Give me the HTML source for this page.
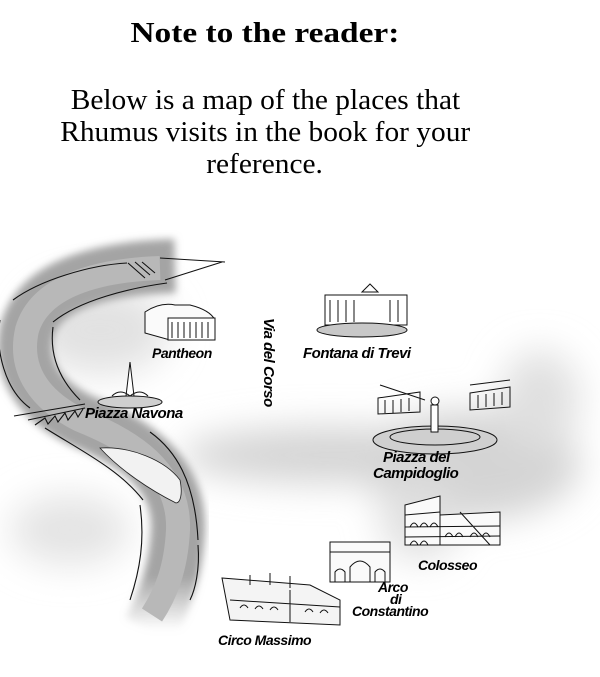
<!DOCTYPE html>
<html><head><meta charset="utf-8"><style>
html,body{margin:0;padding:0;background:#fff;}
body{width:600px;height:677px;overflow:hidden;position:relative;}
.t{position:absolute;left:0;width:530px;text-align:center;font-family:"Liberation Serif",serif;color:#000;}
.s{display:inline-block;transform:scaleX(1.05);transform-origin:center;}
</style></head><body>
<div class="t" style="top:17px;font-size:29px;font-weight:bold;"><span class="s" style="transform:scaleX(1.15)">Note to the reader:</span></div>
<div class="t" style="top:85px;font-size:28px;line-height:32px;"><span class="s">Below is a map of the places that</span><br><span class="s">Rhumus visits in the book for your</span><br><span class="s">reference.</span></div>
<svg width="600" height="677" style="position:absolute;left:0;top:0" xmlns="http://www.w3.org/2000/svg">
<defs>
<filter id="b" x="-50%" y="-50%" width="200%" height="200%"><feGaussianBlur stdDeviation="18"/></filter>
<filter id="b2" x="-20%" y="-20%" width="140%" height="140%"><feGaussianBlur stdDeviation="4"/></filter>
<linearGradient id="g" x1="0" y1="0" x2="0" y2="1"><stop offset="0.85" stop-color="#a4a4a4"/><stop offset="1" stop-color="#a4a4a4" stop-opacity="0"/></linearGradient>
</defs>
<g filter="url(#b)" fill="#d4d4d4">
<ellipse cx="330" cy="455" rx="150" ry="28"/>
<ellipse cx="470" cy="465" rx="110" ry="55"/>
<ellipse cx="100" cy="330" rx="70" ry="45" fill="#e2e2e2"/>
<ellipse cx="70" cy="530" rx="60" ry="35" fill="#e4e4e4"/>
<ellipse cx="540" cy="400" rx="40" ry="50" fill="#e0e0e0"/>
<ellipse cx="420" cy="520" rx="40" ry="40" fill="#e0e0e0"/>
</g>
<path d="M175,266 C100,268 40,285 27,330 C18,370 40,400 80,420 C130,440 180,470 178,530 C176,570 165,600 150,630" fill="none" stroke="url(#g)" stroke-width="54" filter="url(#b2)"/>
<path d="M160,268 C100,270 40,285 27,330 C18,370 40,400 80,420 C130,440 180,470 178,530 C176,570 165,595 152,615" fill="none" stroke="#b8b8b8" stroke-width="24"/>
<path d="M100,448 C130,446 165,460 180,480 C183,495 180,503 176,503 C150,490 120,470 100,448Z" fill="#f2f2f2" stroke="#222" stroke-width="0.8"/>
<g fill="none" stroke="#111" stroke-width="1.1">
<path d="M13,300 C40,280 90,265 127,263"/>
<path d="M53,322 C80,300 130,288 167,283"/>
<path d="M0,320 C-5,350 5,390 30,408"/>
<path d="M53,327 C50,350 55,375 80,400"/>
<path d="M14,416 L85,404"/><path d="M28,420 L85,408"/>
<path d="M35,425 L45,418 L48,424 L55,416 L58,422 L65,413 L68,420 L75,411 L78,417 L83,409"/>
<path d="M45,428 C80,450 120,470 143,500"/>
<path d="M150,432 C175,450 195,480 198,540"/>
<path d="M140,505 C145,540 140,570 130,600"/>
<path d="M198,545 C200,570 195,590 190,600"/>
<path d="M128,263 L145,278 M135,262 L150,275 M142,262 L155,273"/>
<path d="M160,258 L225,262 M165,280 L222,262"/>
</g>
<g stroke="#111" fill="#fff" stroke-width="1">
<path d="M145,312 Q160,302 175,305 L190,305 Q210,310 215,320 L215,338 L170,340 L145,333Z" fill="#fafafa"/>
<rect x="168" y="318" width="47" height="22"/>
<path d="M172,322 v16 M178,322 v16 M184,322 v16 M190,322 v16 M196,322 v16 M202,322 v16 M208,322 v16" fill="none"/>
<rect x="325" y="295" width="82" height="30"/>
<path d="M330,300 v22 M338,300 v22 M346,300 v22 M354,300 v22 M390,300 v22 M398,300 v22 M362,292 L370,284 L378,292Z" fill="none"/>
<ellipse cx="362" cy="330" rx="45" ry="7" fill="#c8c8c8"/>
<ellipse cx="130" cy="402" rx="32" ry="6" fill="#cfcfcf"/>
<path d="M130,362 L126,396 L134,396Z"/><path d="M112,396 Q120,388 130,396 Q140,388 148,396" fill="none"/>
<ellipse cx="435" cy="440" rx="62" ry="14" fill="#cfcfcf"/>
<ellipse cx="435" cy="437" rx="45" ry="8" fill="none"/>
<path d="M378,398 L420,392 L420,412 L378,414Z M470,393 L510,387 L510,407 L470,410Z" fill="none"/>
<path d="M385,400 v13 M393,400 v13 M401,399 v13 M409,398 v13 M478,395 v13 M486,394 v13 M494,393 v13 M502,392 v13 M380,385 L425,400 M470,385 L510,380" fill="none"/>
<rect x="431" y="405" width="7" height="27"/><circle cx="435" cy="401" r="4"/>
<path d="M405,505 L440,496 L440,545 L405,545Z M440,515 L500,512 L500,545 L440,545Z" fill="#fafafa"/>
<path d="M405,515 L440,512 M405,527 L500,526 M405,537 L500,536 M460,512 L490,545" fill="none"/>
<path d="M410,527 q4,-8 8,0 M420,527 q4,-8 8,0 M430,527 q4,-8 8,0 M445,537 q4,-8 8,0 M455,537 q4,-8 8,0 M470,537 q4,-8 8,0 M482,537 q4,-8 8,0 M410,545 q4,-8 8,0 M420,545 q4,-8 8,0" fill="none"/>
<rect x="330" y="542" width="60" height="40" fill="#fafafa"/>
<path d="M330,552 h60 M350,582 v-15 q10,-12 20,0 v15 M335,582 v-10 q5,-6 10,0 v10 M375,582 v-10 q5,-6 10,0 v10" fill="none"/>
<path d="M222,578 L310,585 L340,600 L340,625 L230,620 Z" fill="#f4f4f4"/>
<path d="M230,600 L340,607 M290,590 v32 M240,608 q4,-6 8,0 M255,609 q4,-6 8,0 M270,610 q4,-6 8,0 M305,612 q4,-6 8,0 M320,613 q4,-6 8,0 M250,585 v-10 M270,585 v-12 M290,588 v-12" fill="none"/>
</g>
<g font-family="'Liberation Sans',sans-serif" font-weight="bold" font-style="italic" font-size="14" fill="#000" letter-spacing="-0.5">
<text x="152" y="358">Pantheon</text>
<text x="303" y="358" font-size="15">Fontana di Trevi</text>
<text x="85" y="418" font-size="15">Piazza Navona</text>
<text x="383" y="462" font-size="15">Piazza del</text>
<text x="373" y="478" font-size="15">Campidoglio</text>
<text x="418" y="570">Colosseo</text>
<text x="378" y="592">Arco</text>
<text x="390" y="604">di</text>
<text x="352" y="616">Constantino</text>
<text x="218" y="645">Circo Massimo</text>
<text transform="translate(264,318) rotate(90)" font-size="15">Via del Corso</text>
</g>
</svg>
</body></html>
